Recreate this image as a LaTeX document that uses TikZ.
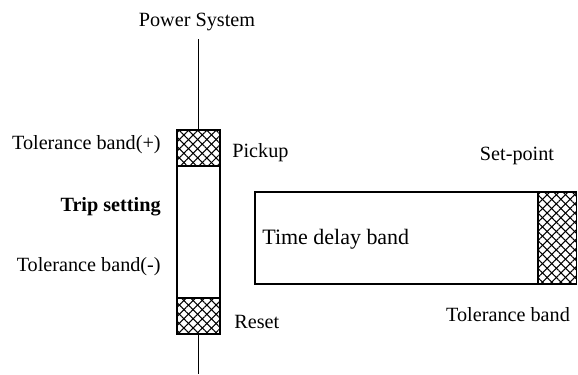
\documentclass[tikz,border=0pt]{standalone}
\usepackage{fontspec}
\setmainfont{Liberation Serif}
\usetikzlibrary{patterns.meta}

\begin{document}
\begin{tikzpicture}[
		lbl/.style={inner sep=0pt, font=\fontsize{11.5}{13}\selectfont},
		hatchA/.style={pattern={Lines[angle=45, distance=3.7pt, line width=0.6pt]}},
		hatchB/.style={pattern={Lines[angle=-45, distance=3.7pt, line width=0.6pt]}},
		frame/.style={line width=0.8pt}
	]
		\useasboundingbox (0,0) rectangle (11.56,-7.48);
		
		% Power system and relay bar
		\node[lbl] (power) at (3.94,-0.44) {Power System};
		\node[draw, frame, minimum width=0.86cm, minimum height=4.08cm, inner sep=0pt] (bar) at (3.97,-4.64) {};
		\coordinate (gnd) at (3.97,-7.48);
		\draw (power.south -| bar.north) ++(0,-0.16) -- (bar.north);
		\draw (bar.south) -- (gnd);
		
		% Tolerance bands on the bar
		\fill[hatchA] (3.54,-2.60) rectangle (4.40,-3.32);
		\fill[hatchB] (3.54,-2.60) rectangle (4.40,-3.32);
		\draw[frame] (3.54,-3.32) -- (4.40,-3.32);
		\fill[hatchA] (3.54,-5.96) rectangle (4.40,-6.68);
		\fill[hatchB] (3.54,-5.96) rectangle (4.40,-6.68);
		\draw[frame] (3.54,-5.96) -- (4.40,-5.96);
		
		% Labels beside the bar
		\node[lbl, anchor=east] (tolplus) at (3.22,-2.90) {Tolerance band(+)};
		\node[lbl, anchor=east] (trip) at (3.22,-4.14) {\bfseries Trip setting};
		\node[lbl, anchor=east] (tolminus) at (3.22,-5.34) {Tolerance band(-)};
		\node[lbl, anchor=west] (pickup) at (4.64,-3.06) {Pickup};
		\node[lbl, anchor=west] (reset) at (4.68,-6.44) {Reset};
		
		% Time delay band
		\draw[frame] (5.10,-3.84) rectangle (11.53,-5.68);
		\fill[hatchA] (10.76,-3.84) rectangle (11.53,-5.68);
		\fill[hatchB] (10.76,-3.84) rectangle (11.53,-5.68);
		\draw[frame] (10.76,-3.84) -- (10.76,-5.68);
		\node[lbl, anchor=west, font=\fontsize{12.5}{14}\selectfont] (delay) at (5.24,-4.78) {Time delay band};
		\node[lbl] (setpoint) at (10.34,-3.12) {Set-point};
		\node[lbl] (tolband) at (10.16,-6.30) {Tolerance band};
	\end{tikzpicture}
\end{document}
